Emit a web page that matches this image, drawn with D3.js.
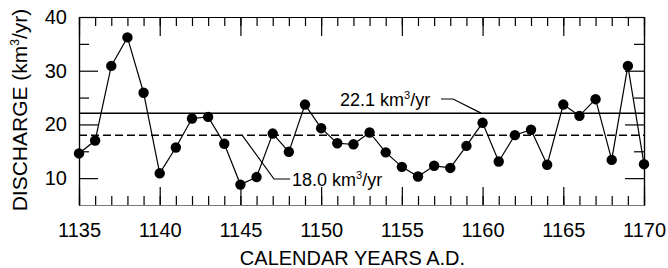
<!DOCTYPE html>
<html>
<head>
<meta charset="utf-8">
<script src="https://cdn.jsdelivr.net/npm/d3@7"></script>
<style>
  html, body { margin: 0; padding: 0; background: #fff; }
  svg { display: block; font-family: "Liberation Sans", Arial, Helvetica, sans-serif; }
</style>
</head>
<body>
<svg id="chart" width="668" height="268"></svg>
<script>
// ---- data ----
const years = [1135,1136,1137,1138,1139,1140,1141,1142,1143,1144,1145,1146,1147,1148,1149,1150,1151,1152,1153,1154,1155,1156,1157,1158,1159,1160,1161,1162,1163,1164,1165,1166,1167,1168,1169,1170];
const discharge = [14.6,17.0,30.9,36.2,25.9,10.9,15.7,21.1,21.4,16.4,8.8,10.2,18.3,14.9,23.7,19.3,16.5,16.3,18.5,14.8,12.1,10.3,12.3,11.9,16.0,20.3,13.1,18.0,19.0,12.5,23.7,21.6,24.7,13.4,30.9,12.6];
const xMajorTicks = [1135,1140,1145,1150,1155,1160,1165,1170];
const yMajorTicks = [10,20,30,40];
const yMinorTicks = [15,25,35];
const meanValue = 22.1;
const medianValue = 18.0;
const xTitle = "CALENDAR YEARS A.D.";
const yTitle = "DISCHARGE (km³/yr)";

// ---- layout ----
const svg = d3.select("#chart");
const L = 79, R = 644, T = 17, B = 205;
const x = d3.scaleLinear().domain([1135, 1170]).range([L, R]);
const y = d3.scaleLinear().domain([5, 40]).range([B, T]);
const font = '"Liberation Sans", Arial, Helvetica, sans-serif';

function styleAxis(g, color) {
  g.selectAll("path.domain").attr("stroke", color || "#000").attr("stroke-width", 1.2);
  g.selectAll(".tick line").attr("stroke", "#000").attr("stroke-width", 1.2);
  g.selectAll("text").attr("fill", "#000").attr("font-family", font).attr("font-size", 20);
}

// bottom axis: labels + major ticks
const gB = svg.append("g").attr("transform", `translate(0,${B})`)
  .call(d3.axisBottom(x).tickValues(xMajorTicks).tickFormat(d3.format("d")).tickSize(-18).tickSizeOuter(0).tickPadding(18));
styleAxis(gB, "#777");
svg.append("g").attr("transform", `translate(0,${B})`)
  .call(d3.axisBottom(x).tickValues(years).tickFormat("").tickSize(-9).tickSizeOuter(0))
  .call(g => styleAxis(g, "#777"));

// top axis
svg.append("g").attr("transform", `translate(0,${T})`)
  .call(d3.axisTop(x).tickValues(xMajorTicks).tickFormat("").tickSize(-19).tickSizeOuter(0))
  .call(g => styleAxis(g));
svg.append("g").attr("transform", `translate(0,${T})`)
  .call(d3.axisTop(x).tickValues(years).tickFormat("").tickSize(-9).tickSizeOuter(0))
  .call(g => styleAxis(g));

// left axis
svg.append("g").attr("transform", `translate(${L},0)`)
  .call(d3.axisLeft(y).tickValues(yMajorTicks).tickFormat(d3.format("d")).tickSize(-19).tickSizeOuter(0).tickPadding(12))
  .call(g => styleAxis(g));
svg.append("g").attr("transform", `translate(${L},0)`)
  .call(d3.axisLeft(y).tickValues(yMinorTicks).tickFormat("").tickSize(-10).tickSizeOuter(0))
  .call(g => styleAxis(g));

// right axis
svg.append("g").attr("transform", `translate(${R},0)`)
  .call(d3.axisRight(y).tickValues(yMajorTicks).tickFormat("").tickSize(-19).tickSizeOuter(0))
  .call(g => styleAxis(g));
svg.append("g").attr("transform", `translate(${R},0)`)
  .call(d3.axisRight(y).tickValues(yMinorTicks).tickFormat("").tickSize(-10).tickSizeOuter(0))
  .call(g => styleAxis(g));

// reference lines
svg.append("line").attr("x1", L).attr("x2", R).attr("y1", y(meanValue)).attr("y2", y(meanValue))
  .attr("stroke", "#000").attr("stroke-width", 1.5);
svg.append("line").attr("x1", L).attr("x2", R).attr("y1", y(medianValue)).attr("y2", y(medianValue))
  .attr("stroke", "#000").attr("stroke-width", 1.5).attr("stroke-dasharray", "8,4");

// data line
const pts = years.map((yr, i) => [yr, discharge[i]]);
svg.append("path").datum(pts)
  .attr("fill", "none").attr("stroke", "#000").attr("stroke-width", 1.2)
  .attr("d", d3.line().x(d => x(d[0])).y(d => y(d[1])));

// annotations: leaders
svg.append("path").attr("fill", "none").attr("stroke", "#000").attr("stroke-width", 1.2)
  .attr("d", `M${441},${99} L${453},${99} L${x(1160) - 1.5},${y(meanValue)}`);
svg.append("path").attr("fill", "none").attr("stroke", "#000").attr("stroke-width", 1.2)
  .attr("d", `M${x(1145.1)},${y(medianValue)} L${274},${179} L${290},${179}`);

function label(xp, yp, val) {
  const t = svg.append("text").attr("x", xp).attr("y", yp)
    .attr("font-family", font).attr("font-size", 18).attr("fill", "#000");
  t.append("tspan").text(val + " km");
  t.append("tspan").text("3").attr("font-size", 11).attr("dy", -7);
  t.append("tspan").text("/yr").attr("dy", 7);
}
label(340, 106, meanValue.toFixed(1));
label(292, 186, medianValue.toFixed(1));

// points
svg.append("g").selectAll("circle").data(pts).join("circle")
  .attr("cx", d => x(d[0])).attr("cy", d => y(d[1])).attr("r", 5.2).attr("fill", "#000");

// axis titles
svg.append("text").attr("x", (L + R) / 2 - 9).attr("y", 265).attr("text-anchor", "middle")
  .attr("font-family", font).attr("font-size", 20).attr("fill", "#000").text(xTitle);
svg.append("text").attr("transform", `translate(27,110) rotate(-90)`).attr("text-anchor", "middle")
  .attr("font-family", font).attr("font-size", 21).attr("fill", "#000")
  .call(t => {
    t.append("tspan").text("DISCHARGE (km");
    t.append("tspan").text("3").attr("font-size", 12).attr("dy", -8);
    t.append("tspan").text("/yr)").attr("dy", 8);
  });
</script>
</body>
</html>
